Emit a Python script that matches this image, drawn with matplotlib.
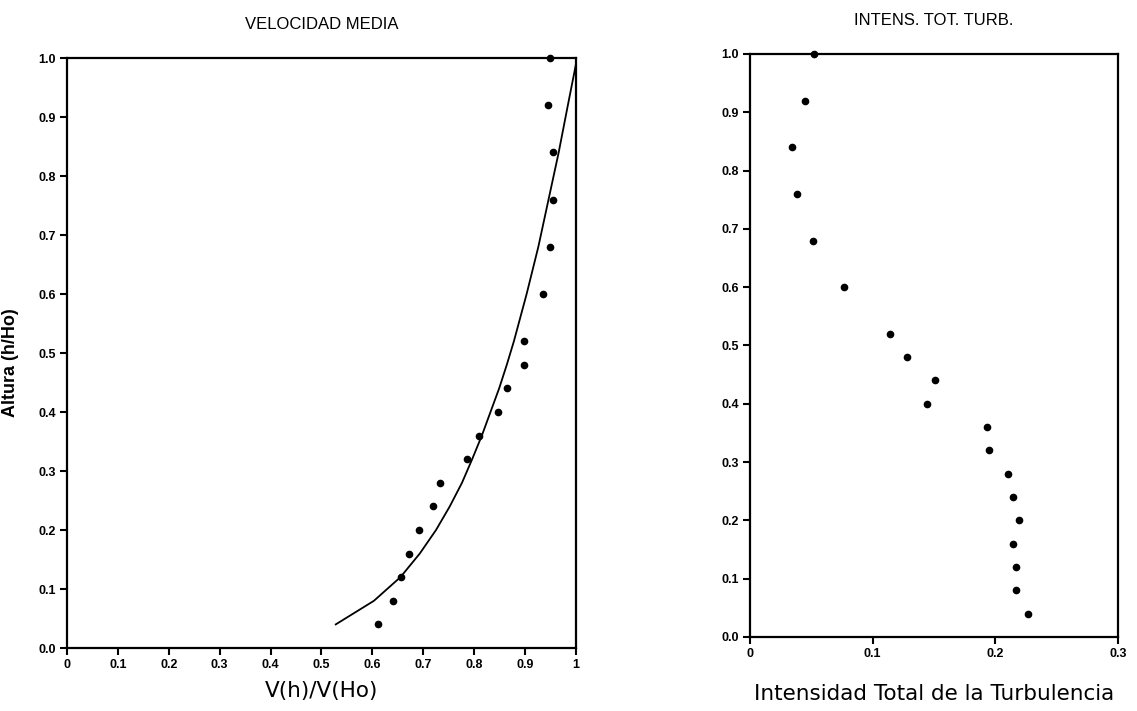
import matplotlib.pyplot as plt

plt.rcParams['font.family'] = ['Liberation Sans', 'DejaVu Sans']

# alturas relativas comunes a las dos medidas
h_rel = [1.00, 0.92, 0.84, 0.76, 0.68, 0.60, 0.52, 0.48, 0.44, 0.40,
         0.36, 0.32, 0.28, 0.24, 0.20, 0.16, 0.12, 0.08, 0.04]

# velocidad media medida V(h)/V(Ho)
vel_med = [0.949, 0.945, 0.955, 0.955, 0.949, 0.935, 0.898, 0.898, 0.864, 0.847,
           0.809, 0.786, 0.733, 0.719, 0.691, 0.672, 0.656, 0.640, 0.611]

# curva de ajuste
curva_h = [0.04, 0.08, 0.12, 0.16, 0.20, 0.24, 0.28, 0.32, 0.36, 0.40,
           0.44, 0.48, 0.52, 0.60, 0.68, 0.76, 0.84, 0.92, 0.99]
curva_v = [0.528, 0.603, 0.655, 0.693, 0.725, 0.752, 0.776, 0.796, 0.815, 0.832,
           0.849, 0.864, 0.878, 0.903, 0.926, 0.946, 0.966, 0.984, 1.0]

# intensidad total de la turbulencia
intens = [0.052, 0.045, 0.034, 0.038, 0.051, 0.077, 0.114, 0.128, 0.151, 0.144,
          0.193, 0.195, 0.210, 0.214, 0.219, 0.214, 0.217, 0.217, 0.227]

x_ticks_izq = [0, 0.1, 0.2, 0.3, 0.4, 0.5, 0.6, 0.7, 0.8, 0.9, 1]
x_lab_izq = ['0', '0.1', '0.2', '0.3', '0.4', '0.5', '0.6', '0.7', '0.8', '0.9', '1']
x_ticks_der = [0, 0.1, 0.2, 0.3]
x_lab_der = ['0', '0.1', '0.2', '0.3']
y_ticks = [0.0, 0.1, 0.2, 0.3, 0.4, 0.5, 0.6, 0.7, 0.8, 0.9, 1.0]
y_lab = ['%.1f' % v for v in y_ticks]

fig = plt.figure(figsize=(11.37, 7.11), dpi=100)
ax1 = fig.add_axes([0.0589, 0.0886, 0.4477, 0.8298])
ax2 = fig.add_axes([0.6596, 0.1041, 0.3237, 0.8200])


def estilo(ax, xt, xl, xmax):
    ax.set_xlim(0, xmax)
    ax.set_ylim(0, 1)
    ax.set_xticks(xt)
    ax.set_xticklabels(xl, fontsize=9, fontweight='bold')
    ax.set_yticks(y_ticks)
    ax.set_yticklabels(y_lab, fontsize=9, fontweight='bold')
    ax.tick_params(direction='out', length=5, width=1.5, pad=3)
    for s in ax.spines.values():
        s.set_linewidth(1.6)


ax1.plot(curva_v, curva_h, color='black', lw=1.3)
ax1.plot(vel_med, h_rel, 'o', color='black', ms=4.5, clip_on=False)
estilo(ax1, x_ticks_izq, x_lab_izq, 1)
ax1.set_title('VELOCIDAD MEDIA', fontsize=12, pad=21)
ax1.set_xlabel('V(h)/V(Ho)', fontsize=15.5, family='DejaVu Sans', labelpad=7)

ax2.plot(intens, h_rel, 'o', color='black', ms=4.5, clip_on=False)
estilo(ax2, x_ticks_der, x_lab_der, 0.3)
ax2.set_title('INTENS. TOT. TURB.', fontsize=12, pad=21)
ax2.set_xlabel('Intensidad Total de la Turbulencia', fontsize=15.5,
               family='DejaVu Sans', labelpad=17)

# etiqueta del eje y, pegada al borde izquierdo
fig.text(11 / 1137, 0.49, 'Altura (h/Ho)', rotation=90, ha='center', va='center',
         fontsize=13, fontweight='bold')

fig.savefig('out.png', dpi=100)
